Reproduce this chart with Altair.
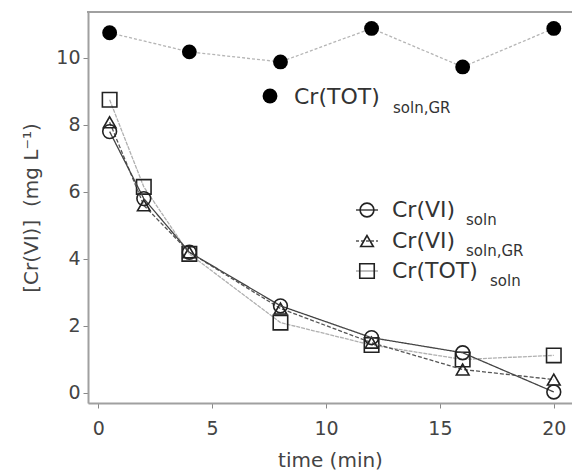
import altair as alt
import pandas as pd

# ---- data ----
time_gr = [0.5, 4, 8, 12, 16, 20]
crtot_soln_gr = [10.75, 10.18, 9.88, 10.88, 9.73, 10.88]

time = [0.5, 2, 4, 8, 12, 16, 20]
crvi_soln = [7.8, 5.8, 4.2, 2.6, 1.65, 1.2, 0.03]
crvi_soln_gr = [8.08, 5.6, 4.2, 2.52, 1.5, 0.7, 0.4]
crtot_soln = [8.75, 6.15, 4.15, 2.1, 1.43, 1.0, 1.12]

x_ticks = [0, 5, 10, 15, 20]
y_ticks = [0, 2, 4, 6, 8, 10]

FONT = "DejaVu Sans"
W, H = 484, 391
XDOM = [-0.45, 20.8]
YDOM = [-0.30, 11.37]

xs = alt.Scale(domain=XDOM, nice=False, zero=False)
ys = alt.Scale(domain=YDOM, nice=False, zero=False)

df_gr = pd.DataFrame({"t": time_gr, "v": crtot_soln_gr})
df_vi = pd.DataFrame({"t": time, "v": crvi_soln})
df_vigr = pd.DataFrame({"t": time, "v": crvi_soln_gr})
df_tot = pd.DataFrame({"t": time, "v": crtot_soln})

xaxis = alt.Axis(values=x_ticks, title="time (min)", grid=False,
                 domainColor="#a0a0a0", domainWidth=2,
                 tickColor="#888", tickSize=5, tickWidth=1,
                 labelFont=FONT, labelFontSize=19, labelColor="#444", labelPadding=11,
                 titleFont=FONT, titleFontSize=20, titleColor="#444", titleFontWeight="normal",
                 titlePadding=12)
yaxis = alt.Axis(values=y_ticks, title="[Cr(VI)]\u00a0\u00a0(mg L⁻¹)", grid=False,
                 domainColor="#a0a0a0", domainWidth=2,
                 tickColor="#888", tickSize=5, tickWidth=1,
                 labelFont=FONT, labelFontSize=19, labelColor="#444", labelPadding=3,
                 titleFont=FONT, titleFontSize=20, titleColor="#444", titleFontWeight="normal",
                 titlePadding=14)

X = alt.X("t:Q", scale=xs, axis=xaxis)
Y = alt.Y("v:Q", scale=ys, axis=yaxis)


def series(df, line_color, dash, line_w, shape, filled, size):
    line = alt.Chart(df).mark_line(color=line_color, strokeDash=dash, strokeWidth=line_w).encode(x=X, y=Y)
    if filled:
        pts = alt.Chart(df).mark_point(shape=shape, filled=True, color="#000", size=size, opacity=1).encode(x=X, y=Y)
    else:
        pts = alt.Chart(df).mark_point(shape=shape, filled=False, color="#222", strokeWidth=1.6,
                                       size=size, opacity=1).encode(x=X, y=Y)
    return line + pts


s_gr = series(df_gr, "#b5b5b5", [3, 2], 1.3, "circle", True, 220)
s_tot = series(df_tot, "#b0b0b0", [4, 1], 1.3, "square", False, 210)
s_vigr = series(df_vigr, "#555", [4, 2], 1.3, "triangle-up", False, 160)
s_vi = series(df_vi, "#444", [1, 0], 1.3, "circle", False, 190)

one = alt.Data(values=[{"k": 1}])

# frame top line
top = alt.Chart(one).mark_rule(color="#a0a0a0", strokeWidth=2).encode(
    x=alt.value(-1), x2=alt.value(W + 2), y=alt.value(0))


def legend_item(mx, my, shape, filled, size, line_color, dash, main, sub, tx, ty, sx, sy, fs, sfs):
    parts = []
    parts.append(alt.Chart(one).mark_rule(color=line_color, strokeDash=dash, strokeWidth=1.3).encode(
        x=alt.value(mx - 11), x2=alt.value(mx + 11), y=alt.value(my)))
    if filled:
        parts.append(alt.Chart(one).mark_point(shape=shape, filled=True, color="#000", size=size, opacity=1).encode(
            x=alt.value(mx), y=alt.value(my)))
    else:
        parts.append(alt.Chart(one).mark_point(shape=shape, filled=False, color="#222", strokeWidth=1.6,
                                               size=size, opacity=1).encode(x=alt.value(mx), y=alt.value(my)))
    parts.append(alt.Chart(one).mark_text(text=main, font=FONT, fontSize=fs, color="#333",
                                          align="left", baseline="alphabetic").encode(
        x=alt.value(tx), y=alt.value(ty)))
    parts.append(alt.Chart(one).mark_text(text=sub, font=FONT, fontSize=sfs, color="#333",
                                          align="left", baseline="alphabetic").encode(
        x=alt.value(sx), y=alt.value(sy)))
    return alt.layer(*parts)


L0 = 88  # left padding
T0 = 12  # top padding
leg1 = legend_item(270 - L0, 96 - T0, "circle", True, 220, "#ffffff", [1, 0], "Cr(TOT)", "soln,GR",
                   294 - L0, 104 - T0, 393 - L0, 113 - T0, 22, 15)
leg2 = legend_item(367 - L0, 210 - T0, "circle", False, 190, "#444", [1, 0], "Cr(VI)", "soln",
                   392 - L0, 217 - T0, 466 - L0, 225 - T0, 22, 15)
leg3 = legend_item(367 - L0, 241 - T0, "triangle-up", False, 160, "#555", [3, 2], "Cr(VI)", "soln,GR",
                   392 - L0, 248 - T0, 466 - L0, 256 - T0, 22, 15)
leg4 = legend_item(367 - L0, 271 - T0, "square", False, 210, "#aaa", [1, 0], "Cr(TOT)", "soln",
                   392 - L0, 278 - T0, 490 - L0, 286 - T0, 22, 15)

chart = alt.layer(s_gr, s_tot, s_vigr, s_vi, top, leg1, leg2, leg3, leg4).properties(
    width=W, height=H,
    autosize="none",
    padding={"left": L0, "top": T0, "right": 0, "bottom": 473 - T0 - H},
).configure_view(stroke=None).configure(background="white")

chart.save("out.html", embed_options={"renderer": "svg", "actions": False})
